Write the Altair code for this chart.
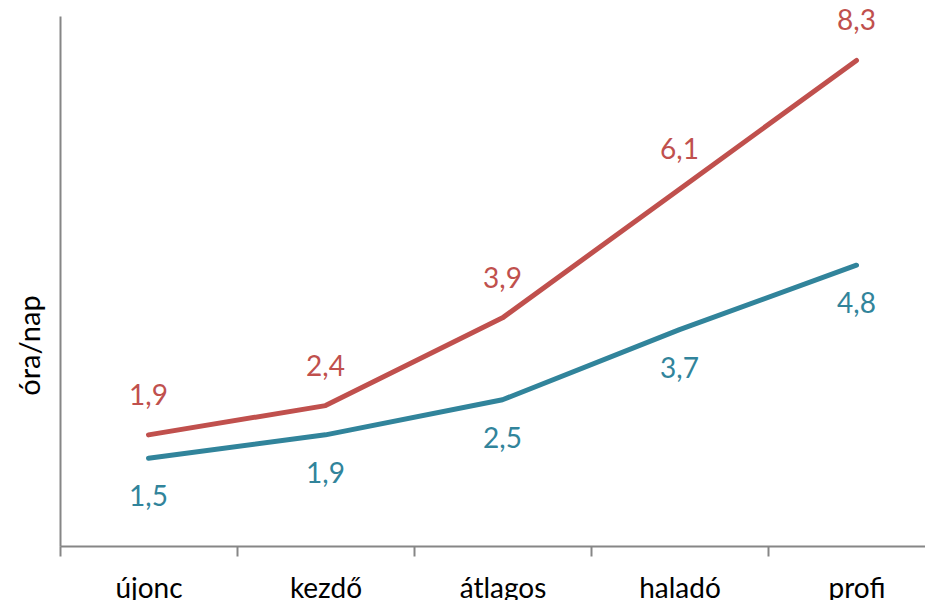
import altair as alt
import pandas as pd

categories = ["újonc", "kezdő", "átlagos", "haladó", "profi"]
red_values = [1.9, 2.4, 3.9, 6.1, 8.3]
teal_values = [1.5, 1.9, 2.5, 3.7, 4.8]
red_labels = ["1,9", "2,4", "3,9", "6,1", "8,3"]
teal_labels = ["1,5", "1,9", "2,5", "3,7", "4,8"]

rows = []
for c, v, l in zip(categories, red_values, red_labels):
    rows.append({"cat": c, "val": v, "lab": l, "series": "red"})
for c, v, l in zip(categories, teal_values, teal_labels):
    rows.append({"cat": c, "val": v, "lab": l, "series": "teal"})
df = pd.DataFrame(rows)

RED = "#C0504D"
TEAL = "#31849B"
FONT = "Lato"

x = alt.X("cat:N", sort=categories, bandPosition=0.5,
          scale=alt.Scale(type="band", range=[0, 885], paddingInner=0, paddingOuter=0),
          axis=alt.Axis(title=None, labelFontSize=28, labelFont=FONT, labelColor="black",
                        labelPadding=19, tickSize=10, tickColor="#868686", tickWidth=2,
                        tickBand="extent",
                        domainColor="#868686", domainWidth=2, labelAngle=0))
y = alt.Y("val:Q", scale=alt.Scale(domain=[0, 9.06], nice=False),
          axis=alt.Axis(title="óra/nap", titleFontSize=29, titleFont=FONT, titleColor="black",
                        titleFontWeight="normal", labels=False, ticks=False, grid=False,
                        titleX=-30, titleY=329, titleAngle=270, titleBaseline="middle",
                        titleAlign="center",
                        domainColor="#868686", domainWidth=2))

color = alt.Color("series:N", scale=alt.Scale(domain=["red", "teal"], range=[RED, TEAL]), legend=None)

base = alt.Chart(df)
lines = base.mark_line(strokeWidth=5, strokeCap="round", strokeJoin="round").encode(x=x, y=y, color=color)
red_text = base.transform_filter(alt.datum.series == "red").mark_text(
    dy=-38, fontSize=28, font=FONT, color=RED).encode(x=x, y=y, text="lab:N")
teal_text = base.transform_filter(alt.datum.series == "teal").mark_text(
    dy=40, fontSize=28, font=FONT, color=TEAL).encode(x=x, y=y, text="lab:N")

chart = (lines + red_text + teal_text).properties(
    width=865, height=530,
    autosize=alt.AutoSizeParams(type="none"),
    padding={"left": 52, "top": 8, "right": 0, "bottom": 54},
).configure_view(stroke=None)

chart.save("out.html", embed_options={"renderer": "svg", "actions": False})
